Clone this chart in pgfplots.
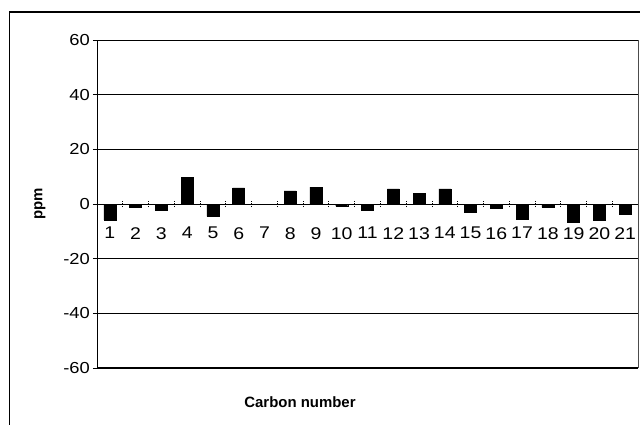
\documentclass[border=0pt]{standalone}
\usepackage{pgfplots}
\pgfplotsset{compat=1.18}
\usepackage{fontspec}
\setmainfont{Liberation Sans}
\newfontfamily\widefont[FakeStretch=1.15]{Liberation Sans}
\begin{document}
\begin{tikzpicture}
\clip (-97bp,-57bp) rectangle (543bp,368bp);
\useasboundingbox (-97bp,-57bp) rectangle (543bp,368bp);
\draw[line width=1.2pt] (-87.5bp,-80bp) -- (-87.5bp,356bp) -- (560bp,356bp);
\begin{axis}[
  at={(0,0)}, anchor=south west,
  scale only axis, width=541bp, height=328bp,
  xmin=0.5, xmax=21.5, ymin=-60, ymax=60,
  ytick={-60,-40,...,60},
  ymajorgrids, major grid style={black, line width=0.5pt},
  axis line style={black},
  axis x line*=middle,
  axis y line*=left,
  ytick style={black, line width=0.8pt},
  tick align=outside, major tick length=4bp,
  xtick={1,...,21},
  xticklabel style={font=\widefont\fontsize{17}{17}\selectfont, yshift=-19bp, inner sep=0pt},
  yticklabel style={font=\widefont\fontsize{16}{16}\selectfont, xshift=-2bp, inner sep=1pt},
  x tick style={draw=none},
  /pgf/number format/assume math mode=true,
  ylabel={\bfseries ppm}, ylabel style={font=\fontsize{15}{15}\selectfont, at={(axis description cs:0,0.5)}, yshift=48bp},
  clip=false,
]
\draw[black, line width=0.8pt] (axis cs:0.5,60) -- (axis cs:21.5,60);
\draw[black, line width=1.2pt] (axis cs:0.5,-60) -- (axis cs:21.5,-60);
\draw[black, densely dotted, line width=1pt] (axis cs:0.5,-60) -- (axis cs:0.5,60);
\draw[black!70, line width=0.8pt] (axis cs:21.5,-60) -- (axis cs:21.5,60);
\pgfplotsinvokeforeach{1.5,2.5,3.5,4.5,5.5,6.5,7.5,8.5,9.5,10.5,11.5,12.5,13.5,14.5,15.5,16.5,17.5,18.5,19.5,20.5}{
  \draw[black, densely dotted, line width=0.8pt] ([yshift=-3bp]axis cs:#1,0) -- ([yshift=3bp]axis cs:#1,0);
}
\addplot[ybar, bar width=12bp, fill=black, draw=black] coordinates {
(1,-5.8) (2,-1.2) (3,-2.4) (4,9.7) (5,-4.5) (6,5.9) (7,0) (8,4.8) (9,6.2) (10,-0.8)
(11,-2.4) (12,5.5) (13,3.9) (14,5.5) (15,-2.9) (16,-1.7) (17,-5.7) (18,-1.2) (19,-6.5) (20,-6.0) (21,-3.6)
};
\node[font=\bfseries\fontsize{15}{15}\selectfont] at (axis cs:8.38,-72.4) {Carbon number};
\end{axis}
\end{tikzpicture}
\end{document}
